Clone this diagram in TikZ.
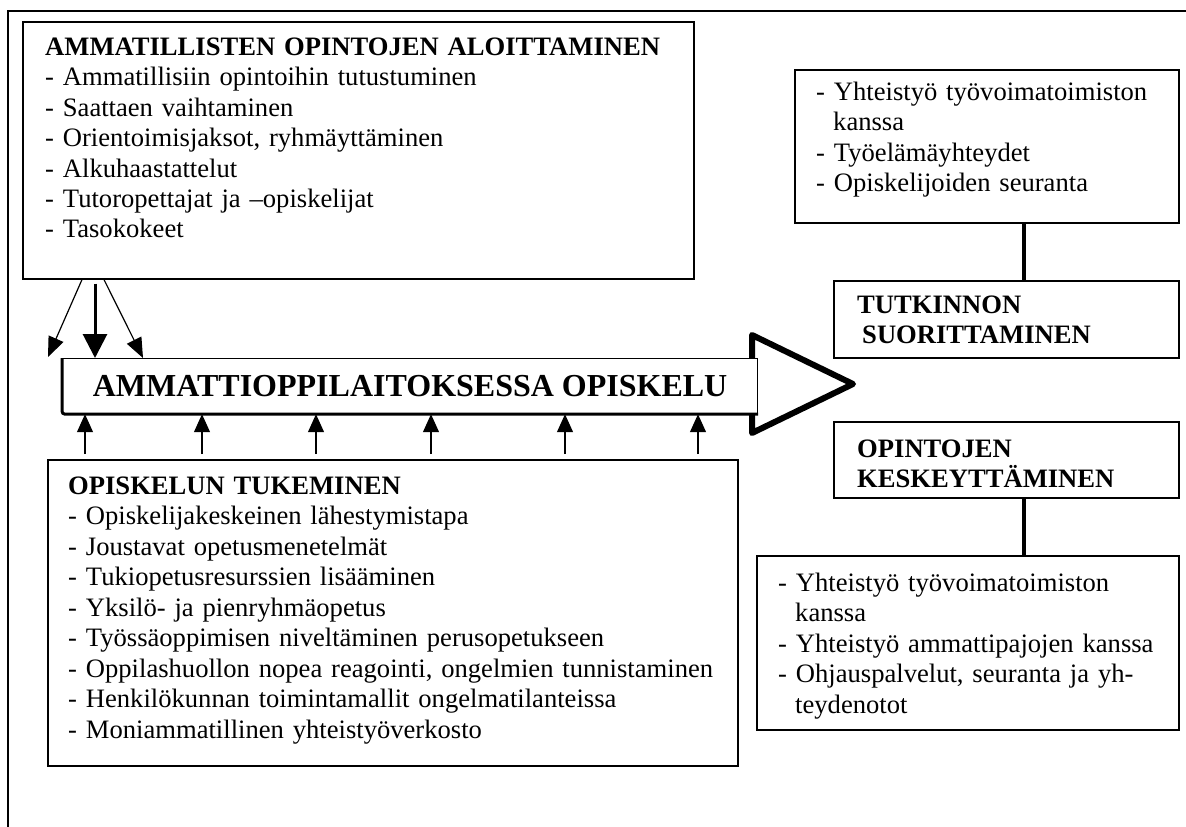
\documentclass[tikz,border=0pt]{standalone}
\usepackage{fontspec}
\setmainfont{Liberation Serif}
\usepackage{tikz}
\usetikzlibrary{arrows.meta}
\newcommand\listfont{\fontsize{26.6pt}{30.5pt}\selectfont}
\newcommand\studyfont{\fontsize{32pt}{36pt}\selectfont\bfseries}

\begin{document}
\begin{tikzpicture}[x=1pt,y=-1pt]
    \useasboundingbox (0,0) rectangle (1186,827);
    \draw[line width=1.6pt] (8,827) -- (8,11) -- (1186,11);
    \draw[line width=6pt,line join=round] (752,335) -- (853,384) -- (752,433) -- cycle;
    \begin{scope}[every node/.style={draw,fill=white,line width=1.6pt,anchor=north west,inner sep=0pt}]
        \node[minimum width=671pt,minimum height=257pt] (startBox) at (22,21) {};
        \node[minimum width=384pt,minimum height=153pt] (goalsBox) at (794,69) {};
        \node[minimum width=345pt,minimum height=77pt] (degreeBox) at (833,280) {};
        \node[minimum width=345pt,minimum height=76pt] (dropoutBox) at (833,421) {};
        \node[minimum width=422pt,minimum height=174pt] (followBox) at (756,555) {};
        \node[minimum width=690pt,minimum height=306pt] (supportBox) at (47,459) {};
        \node[minimum width=695pt,minimum height=55pt,line width=1.2pt,font=\studyfont] (study) at (62,358) {AMMATTIOPPILAITOKSESSA OPISKELU};
    \end{scope}
    \draw[line width=3pt,rounded corners=3pt] (study.north west) -- (study.south west) -- (study.south east);
    \begin{scope}[every node/.style={anchor=base west,inner sep=0pt,align=left,font=\listfont}]
        \node[text width=640pt] (startText) at (45,55) {\textbf{AMMATILLISTEN OPINTOJEN ALOITTAMINEN}\\
            - Ammatillisiin opintoihin tutustuminen\\
            - Saattaen vaihtaminen\\
            - Orientoimisjaksot, ryhmäyttäminen\\
            - Alkuhaastattelut\\
            - Tutoropettajat ja –opiskelijat\\
            - Tasokokeet};
        \node[text width=355pt] (goalsText) at (816,100) {- Yhteistyö työvoimatoimiston\\
            \hspace*{17pt}kanssa\\
            - Työelämäyhteydet\\
            - Opiskelijoiden seuranta};
        \node[text width=310pt,font=\listfont\bfseries] (degreeText) at (857,313) {TUTKINNON\\
            \hspace*{5pt}SUORITTAMINEN};
        \node[text width=310pt,font=\listfont\bfseries] (dropoutText) at (857,457) {OPINTOJEN\\
            KESKEYTTÄMINEN};
        \node[text width=395pt] (followText) at (778,591) {- Yhteistyö työvoimatoimiston\\
            \hspace*{17pt}kanssa\\
            - Yhteistyö ammattipajojen kanssa\\
            - Ohjauspalvelut, seuranta ja yh-\\
            \hspace*{17pt}teydenotot};
        \node[text width=660pt] (supportText) at (68,494) {\textbf{OPISKELUN TUKEMINEN}\\
            - Opiskelijakeskeinen lähestymistapa\\
            - Joustavat opetusmenetelmät\\
            - Tukiopetusresurssien lisääminen\\
            - Yksilö- ja pienryhmäopetus\\
            - Työssäoppimisen niveltäminen perusopetukseen\\
            - Oppilashuollon nopea reagointi, ongelmien tunnistaminen\\
            - Henkilökunnan toimintamallit ongelmatilanteissa\\
            - Moniammatillinen yhteistyöverkosto};
    \end{scope}
    \begin{scope}[every edge/.style={draw,line width=1.2pt}]
        \coordinate (leftTip) at (48,357);
        \path [-{Triangle[length=20pt,width=16pt]}] (startBox.south -| 82,0) edge (leftTip);
        \path [-{Triangle[length=20pt,width=16pt]}] (startBox.south -| 104,0) edge (study.north -| 143,0);
        \path [-{Triangle[length=24pt,width=24pt]}] (startBox.south -| 95,0) edge[line width=3pt,shorten <=4pt] (study.north -| 95,0);
        \foreach \x in {85,202,316,431,565,698}
            \path [-{Triangle[length=18pt,width=16pt]}] (supportBox.north -| \x,0) edge[shorten <=5pt] (study.south -| \x,0);
        \path [-] (goalsBox.south -| 1024,0) edge[line width=4pt] (degreeBox.north -| 1024,0);
        \path [-] (dropoutBox.south -| 1024,0) edge[line width=4pt] (followBox.north -| 1024,0);
    \end{scope}
\end{tikzpicture}
\end{document}
